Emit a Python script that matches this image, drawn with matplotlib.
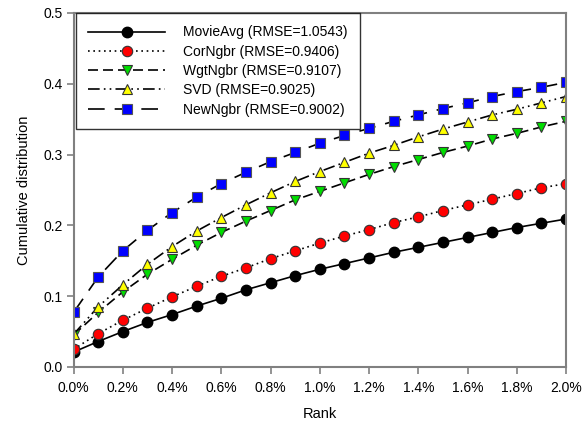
import numpy as np
import matplotlib
matplotlib.use('Agg')
import matplotlib.pyplot as plt
from matplotlib.ticker import FuncFormatter

plt.rcParams['font.family'] = ['Liberation Sans', 'DejaVu Sans']

# Rank in percent
rank = [0.0, 0.1, 0.2, 0.3, 0.4, 0.5, 0.6, 0.7, 0.8, 0.9, 1.0,
        1.1, 1.2, 1.3, 1.4, 1.5, 1.6, 1.7, 1.8, 1.9, 2.0]

movie_avg = [0.021, 0.036, 0.050, 0.063, 0.074, 0.086, 0.097, 0.109, 0.119, 0.129, 0.138,
             0.146, 0.154, 0.162, 0.169, 0.176, 0.183, 0.190, 0.197, 0.203, 0.209]
cor_ngbr = [0.025, 0.047, 0.066, 0.083, 0.099, 0.114, 0.128, 0.140, 0.153, 0.164, 0.175,
            0.185, 0.194, 0.204, 0.212, 0.221, 0.229, 0.237, 0.245, 0.253, 0.259]
wgt_ngbr = [0.045, 0.077, 0.106, 0.131, 0.152, 0.172, 0.190, 0.206, 0.221, 0.236, 0.248,
            0.260, 0.272, 0.283, 0.293, 0.303, 0.312, 0.322, 0.330, 0.339, 0.347]
svd = [0.046, 0.085, 0.116, 0.145, 0.170, 0.192, 0.211, 0.229, 0.246, 0.262, 0.276,
       0.289, 0.302, 0.313, 0.325, 0.336, 0.346, 0.356, 0.364, 0.373, 0.382]
new_ngbr = [0.077, 0.127, 0.164, 0.193, 0.218, 0.240, 0.259, 0.275, 0.290, 0.303, 0.316,
            0.327, 0.337, 0.347, 0.356, 0.365, 0.373, 0.382, 0.389, 0.395, 0.402]

labels = ['MovieAvg (RMSE=1.0543)', 'CorNgbr (RMSE=0.9406)', 'WgtNgbr (RMSE=0.9107)',
          'SVD (RMSE=0.9025)', 'NewNgbr (RMSE=0.9002)']

fig = plt.figure(figsize=(5.88, 4.23), dpi=100)
ax = fig.add_axes([0.125, 0.1324, 0.8376, 0.8369])

ms = 7.5
ax.plot(rank, movie_avg, color='black', linestyle='-', lw=1.2, marker='o', ms=ms,
        mfc='black', mec='black', label=labels[0])
ax.plot(rank, cor_ngbr, color='black', linestyle=(0, (1, 2.2)), lw=1.2, marker='o', ms=ms,
        mfc='red', mec='#333333', mew=0.8, label=labels[1])
ax.plot(rank, wgt_ngbr, color='black', linestyle=(0, (6, 3)), lw=1.2, marker='v', ms=ms,
        mfc='#00dd00', mec='#333333', mew=0.8, label=labels[2])
ax.plot(rank, svd, color='black', linestyle=(0, (7, 2.5, 1, 2.5, 1, 2.5)), lw=1.2, marker='^', ms=ms,
        mfc='yellow', mec='#333333', mew=0.8, label=labels[3])
ax.plot(rank, new_ngbr, color='black', linestyle=(0, (10, 6)), lw=1.2, marker='s', ms=ms - 0.5,
        mfc='#0000ff', mec='#555555', mew=0.8, label=labels[4])

ax.set_xlim(0, 2.0)
ax.set_ylim(0, 0.5)
ax.set_xticks(np.arange(0, 2.01, 0.2))
ax.set_yticks(np.arange(0, 0.51, 0.1))
ax.xaxis.set_major_formatter(FuncFormatter(lambda v, p: f'{v:.1f}%'))
ax.yaxis.set_major_formatter(FuncFormatter(lambda v, p: f'{v:.1f}'))

for s in ax.spines.values():
    s.set_color('#808080')
    s.set_linewidth(1.5)
ax.tick_params(direction='out', length=5, width=1.2, color='#808080', labelsize=10,
               labelcolor='black', pad=3)
ax.tick_params(axis='x', pad=5)

ax.set_xlabel('Rank', fontsize=10.5, labelpad=9)
ax.set_ylabel('Cumulative distribution', fontsize=10.5, labelpad=9)

leg = ax.legend(loc='upper left', bbox_to_anchor=(0.005, 1.0), fontsize=10, frameon=True,
                fancybox=False, handlelength=5.5, handletextpad=1.3, borderpad=0.9,
                labelspacing=0.38, borderaxespad=0.0)
leg.get_frame().set_edgecolor('black')
leg.get_frame().set_linewidth(1.0)

fig.savefig('out.png', dpi=100)
